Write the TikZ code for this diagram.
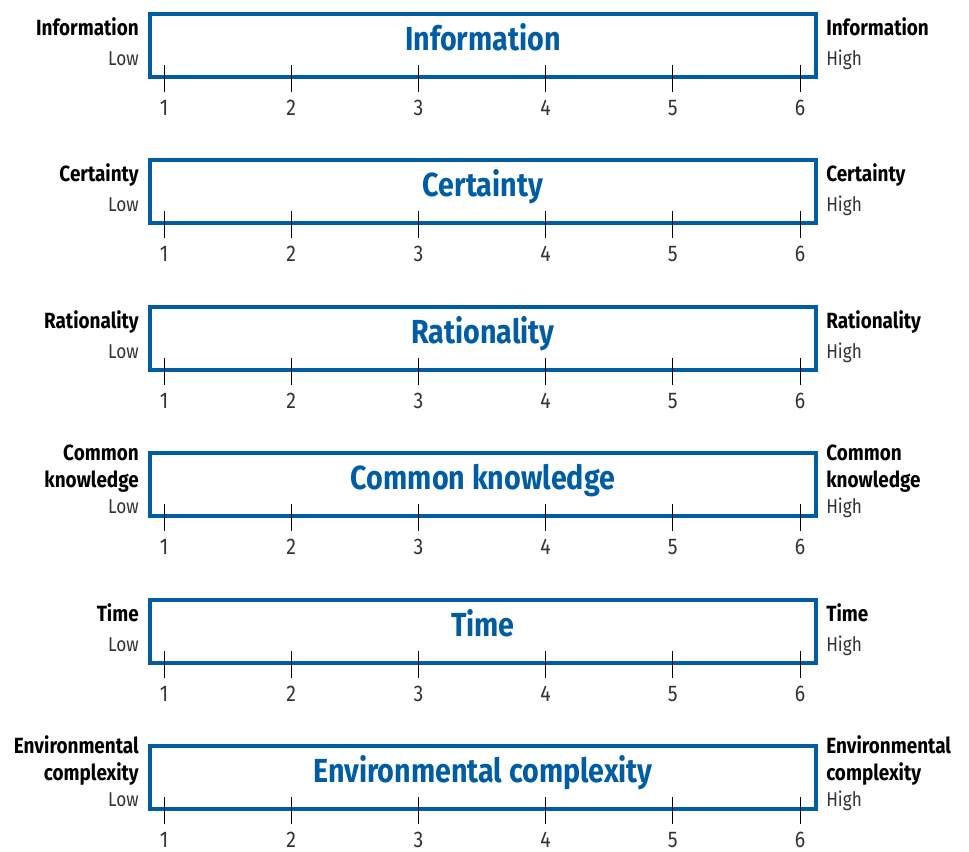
\documentclass[tikz,border=0pt]{standalone}
\usepackage{fontspec}
\setmainfont[FakeStretch=0.86]{Fira Sans}
\definecolor{scaleblue}{RGB}{0,93,164}
\definecolor{lowgray}{RGB}{50,50,50}
\tikzset{
  scalebox/.style={draw=scaleblue, line width=3pt},
  scaletitle/.style={font=\bfseries\fontsize{25}{28}\selectfont, text=scaleblue, anchor=base, inner sep=0pt},
  sidelabel/.style={font=\bfseries\fontsize{16.5}{19}\selectfont, inner sep=0pt},
  endlabel/.style={font=\fontsize{15}{18}\selectfont, text=lowgray, inner sep=0pt},
  ticknum/.style={font=\fontsize{17}{20}\selectfont, text=lowgray, anchor=base, inner sep=0pt, text depth=0pt},
  tickline/.style={draw=black, line width=0.7pt}
}
\begin{document}
\begin{tikzpicture}[x=0.75pt,y=-0.75pt]
\useasboundingbox (0,0) rectangle (969,851);
% one panel per dimension: top of box / title / label lines / baselines
\foreach \y/\ttl/\la/\lb/\yb/\yl [count=\i] in {
  14/Information//Information/21/51,
  160/Certainty//Certainty/21/51,
  307/Rationality//Rationality/21/51,
  453/Common knowledge/Common/knowledge/34/60,
  600/Time//Time/21/51,
  746/Environmental complexity/Environmental/complexity/34/60}{
  \draw[scalebox] (150,\y) rectangle (816,\y+63);
  \node[scaletitle] (title\i) at (483,\y+36) {\ttl};
  % left side
  \node[sidelabel, anchor=base east] (leftA\i) at (139,\y+7) {\la};
  \node[sidelabel, anchor=base east] (leftB\i) at (139,\y+\yb) {\lb};
  \node[endlabel, anchor=base east] (low\i) at (139,\y+\yl) {Low};
  % right side
  \node[sidelabel, anchor=base west] (rightA\i) at (826,\y+7) {\la};
  \node[sidelabel, anchor=base west] (rightB\i) at (826,\y+\yb) {\lb};
  \node[endlabel, anchor=base west] (high\i) at (826,\y+\yl) {High};
  % ticks
  \foreach \k in {1,...,6}{
    \draw[tickline] (164+127.2*\k-127.2,\y+51) -- ++(0,27);
    \node[ticknum] (num\i-\k) at (164+127.2*\k-127.2,\y+101) {\k};
  }
}
\end{tikzpicture}
\end{document}
